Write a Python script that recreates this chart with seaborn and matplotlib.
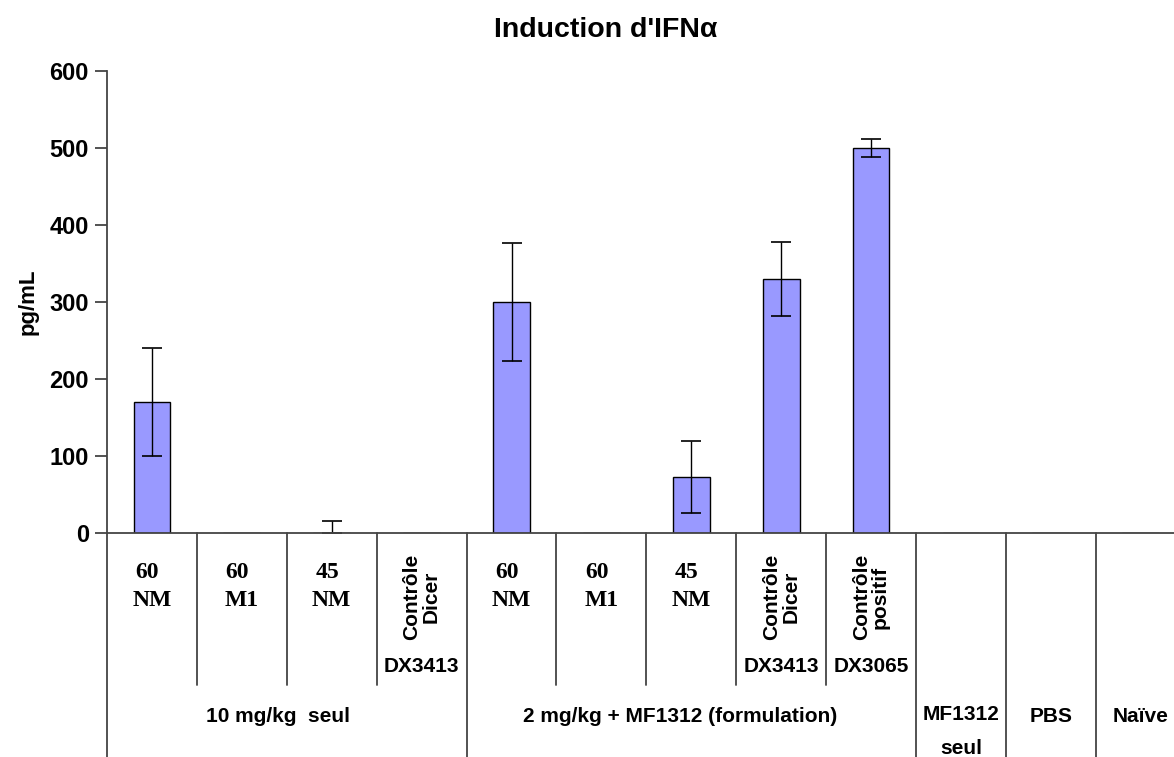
import matplotlib
matplotlib.use('Agg')
import matplotlib.pyplot as plt
import seaborn as sns
import numpy as np

# data
values = [170, 0, 0, 0, 300, 0, 73, 330, 500, 0, 0, 0]
errors = [70, 0, 15, 0, 76, 0, 47, 48, 12, 0, 0, 0]
top_labels = ['60\nNM', '60\nM1', '45\nNM', 'Contrôle\nDicer',
              '60\nNM', '60\nM1', '45\nNM', 'Contrôle\nDicer', 'Contrôle\npositif',
              '', '', '']
codes = ['', '', '', 'DX3413', '', '', '', 'DX3413', 'DX3065', '', '', '']
groups = ['10 mg/kg  seul', '2 mg/kg + MF1312 (formulation)', 'MF1312\nseul', 'PBS', 'Naïve']
group_spans = [(0, 3), (4, 8), (9, 9), (10, 10), (11, 11)]

sns.set_style('white')
plt.rcParams['font.family'] = ['Liberation Sans', 'DejaVu Sans']
plt.rcParams['text.color'] = 'black'
plt.rcParams['axes.labelcolor'] = 'black'
plt.rcParams['ytick.color'] = '#444444'
plt.rcParams['ytick.labelcolor'] = 'black'

fig = plt.figure(figsize=(11.74, 7.57), dpi=100)
ax = fig.add_axes([107 / 1174, 224 / 757, 1067 / 1174, 462 / 757])

x = np.arange(len(values))
sns.barplot(x=x, y=values, color='#9999FF', saturation=1, width=0.41,
            edgecolor='black', linewidth=1, ax=ax)
for xi, v, e in zip(x, values, errors):
    if e > 0:
        lower = min(e, v)
        ax.errorbar(xi, v, yerr=[[lower], [e]], fmt='none', ecolor='black',
                    elinewidth=1, capsize=7, capthick=1.2)

ax.set_xlim(-0.5, 11.37)
ax.set_ylim(0, 600)
ax.set_yticks(range(0, 601, 100))
ax.set_xticks([])
ax.set_xlabel('')
ax.set_ylabel('pg/mL', fontsize=16, fontweight='bold', labelpad=8)
ax.tick_params(axis='y', labelsize=17, length=9, width=1.3, direction='out', left=True, pad=4)
for lbl in ax.get_yticklabels():
    lbl.set_fontweight('bold')
sns.despine(ax=ax)
for s in ['left', 'bottom']:
    ax.spines[s].set_color('#444444')
    ax.spines[s].set_linewidth(1.3)

fig.text(606 / 1174, 1 - 30 / 757, "Induction d'IFNα", ha='center', va='center',
         fontsize=20.5, fontweight='bold')

# table of labels below the axis
tr = ax.get_xaxis_transform()
def ay(py):
    return (533 - py) / 462

group_edges = {-0.5} | {e + 0.5 for _, e in group_spans}
for b in np.arange(-0.5, 12, 1.0):
    bottom = 757 if b in group_edges else 685
    ax.plot([b, b], [0, ay(bottom)], transform=tr, color='#444444', lw=1.3, clip_on=False)

for xi, lab, code in zip(x, top_labels, codes):
    if lab.startswith('Contr'):
        ax.text(xi, ay(597), lab, transform=tr, rotation=90, ha='center', va='center',
                multialignment='center', fontsize=15, fontweight='bold', linespacing=1.0)
    elif lab:
        first, second = lab.split('\n')
        ax.text(xi - 0.05, ay(572), first, transform=tr, ha='center', va='center',
                fontsize=17, fontweight='bold', family='Liberation Serif')
        ax.text(xi, ay(600), second, transform=tr, ha='center', va='center',
                fontsize=17, fontweight='bold', family='Liberation Serif')
    if code:
        ax.text(xi, ay(667), code, transform=tr, ha='center', va='center',
                fontsize=15, fontweight='bold')

for g, (s, e) in zip(groups, group_spans):
    cx = (s + e) / 2
    if '\n' in g:
        a, b = g.split('\n')
        ax.text(cx, ay(714), a, transform=tr, ha='center', va='center', fontsize=15, fontweight='bold')
        ax.text(cx, ay(748), b, transform=tr, ha='center', va='center', fontsize=15, fontweight='bold')
    else:
        off = -0.1 if s == 0 else (-0.12 if s == 4 else 0)
        ax.text(cx + off, ay(716), g, transform=tr, ha='center', va='center', fontsize=15, fontweight='bold')

fig.savefig('out.png', dpi=100)
